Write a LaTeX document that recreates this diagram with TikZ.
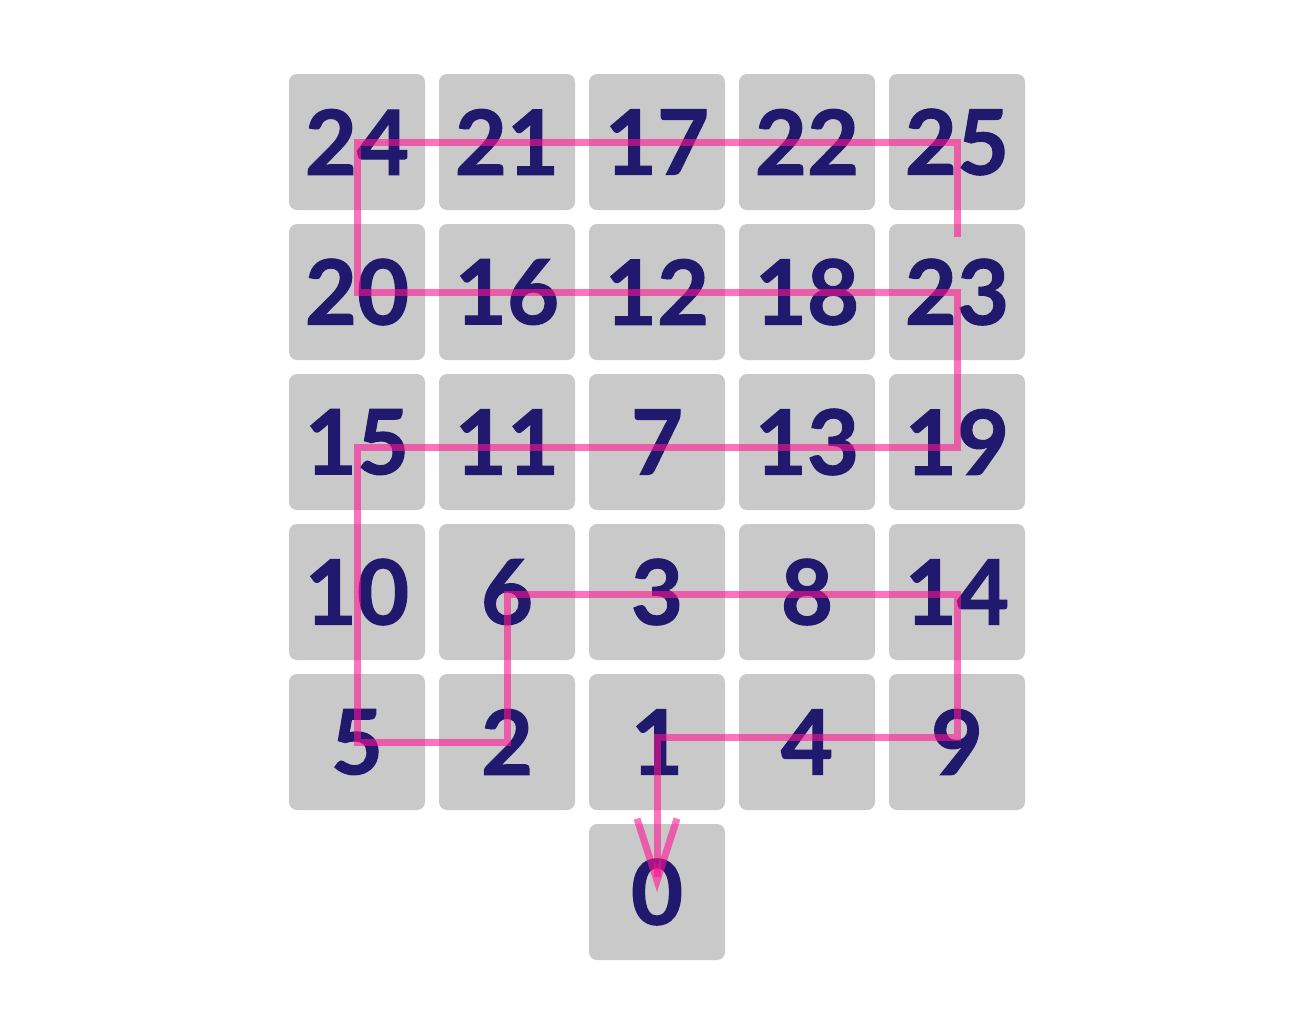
\documentclass[tikz,border=0pt]{standalone}
\usepackage{fontspec}
\setmainfont{Lato}[BoldFeatures={FakeBold=1.2}]
\usetikzlibrary{arrows.meta, calc}
\definecolor{cellgray}{RGB}{201,201,201}
\definecolor{numblue}{RGB}{32,25,110}
\definecolor{routepink}{RGB}{255,20,147}
\tikzstyle{cell} = [rectangle, minimum width=68pt, minimum height=68pt, inner sep=0pt, rounded corners=4pt, fill=cellgray, text=numblue, font=\fontsize{45}{45}\selectfont\bfseries]
\tikzstyle{route} = [draw=routepink, draw opacity=0.6, line width=3.5pt]
\tikzstyle{arrow} = [-{Straight Barb[length=31pt, width=20pt]}]

\begin{document}
\begin{tikzpicture}[node distance=75pt]
	\useasboundingbox (0,0) rectangle (657.5pt,-504.5pt);
	% first row
	\node (c24) [cell] at (178.5pt,-71pt) {24};
	\node (c21) [cell, right of=c24] {21};
	\node (c17) [cell, right of=c21] {17};
	\node (c22) [cell, right of=c17] {22};
	\node (c25) [cell, right of=c22] {25};
	% second row
	\node (c20) [cell, below of=c24] {20};
	\node (c16) [cell, right of=c20] {16};
	\node (c12) [cell, right of=c16] {12};
	\node (c18) [cell, right of=c12] {18};
	\node (c23) [cell, right of=c18] {23};
	% third row
	\node (c15) [cell, below of=c20] {15};
	\node (c11) [cell, right of=c15] {11};
	\node (c7) [cell, right of=c11] {7};
	\node (c13) [cell, right of=c7] {13};
	\node (c19) [cell, right of=c13] {19};
	% fourth row
	\node (c10) [cell, below of=c15] {10};
	\node (c6) [cell, right of=c10] {6};
	\node (c3) [cell, right of=c6] {3};
	\node (c8) [cell, right of=c3] {8};
	\node (c14) [cell, right of=c8] {14};
	% fifth row
	\node (c5) [cell, below of=c10] {5};
	\node (c2) [cell, right of=c5] {2};
	\node (c1) [cell, right of=c2] {1};
	\node (c4) [cell, right of=c1] {4};
	\node (c9) [cell, right of=c4] {9};
	% last one
	\node (c0) [cell, below of=c1] {0};

	\coordinate (start) at ($(c23.north)+(0,-6.5pt)$);
	\draw [route, arrow] (start) -- (c25.center) -- (c24.center) -- (c20.center) -- (c23.center)
		-- ($(c19.center)+(0,-2.5pt)$) -- ($(c15.center)+(0,-2.5pt)$) -- (c5.center) -- (c2.center)
		-- ($(c6.center)+(0,-1pt)$) -- ($(c14.center)+(0,-1pt)$) -- ($(c9.center)+(0,2.5pt)$)
		-- ($(c1.center)+(0,2.5pt)$) -- (c0.center);
\end{tikzpicture}
\end{document}
